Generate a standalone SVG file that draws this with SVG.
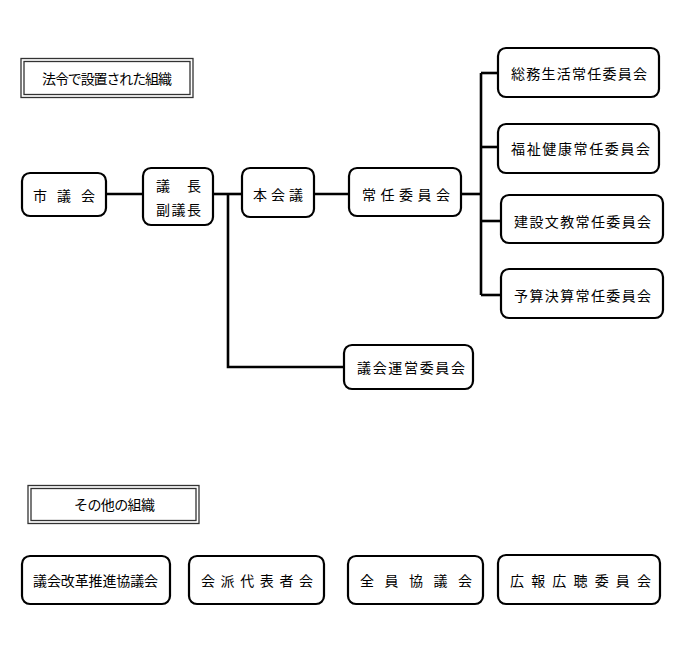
<svg xmlns="http://www.w3.org/2000/svg" width="690" height="645" viewBox="0 0 690 645">
<style>
  .box { fill: #fff; stroke: #000; stroke-width: 2.2; }
  .hdr-o { fill: #fff; stroke: #333; stroke-width: 1.3; }
  .hdr-i { fill: none; stroke: #333; stroke-width: 1.3; }
  .line { fill: none; stroke: #000; stroke-width: 2.6; }
  text { font-family: "Noto Sans CJK JP", "Noto Sans", sans-serif; font-size: 14px; fill: #000; dominant-baseline: central; }
</style>
<rect width="690" height="645" fill="#fff"/>

<g id="connectors">
  <path class="line" d="M106,194 H143"/>
  <path class="line" d="M213,194 H242"/>
  <path class="line" d="M228,194 V367 H344"/>
  <path class="line" d="M314,194 H349"/>
  <path class="line" d="M461,194 H481"/>
  <path class="line" d="M481,73 V295"/>
  <path class="line" d="M481,73 H498"/>
  <path class="line" d="M481,147 H498"/>
  <path class="line" d="M481,221 H501"/>
  <path class="line" d="M481,295 H501"/>
</g>

<g id="header-houryou">
  <rect class="hdr-o" x="21" y="58.5" width="172" height="39"/>
  <rect class="hdr-i" x="24" y="61.5" width="166" height="33"/>
  <text x="42" y="78" textLength="130" lengthAdjust="spacing">法令で設置された組織</text>
</g>

<g id="node-shigikai">
  <rect class="box" x="22" y="173" width="84" height="43" rx="8"/>
  <text x="33" y="195" textLength="62" lengthAdjust="spacing">市議会</text>
</g>

<g id="node-gicho">
  <rect class="box" x="143" y="168" width="70" height="57" rx="8"/>
  <text x="156" y="185" textLength="45" lengthAdjust="spacing">議長</text>
  <text x="156" y="209" textLength="45" lengthAdjust="spacing">副議長</text>
</g>

<g id="node-honkaigi">
  <rect class="box" x="242" y="168" width="72" height="49" rx="8"/>
  <text x="253" y="194" textLength="50" lengthAdjust="spacing">本会議</text>
</g>

<g id="node-joninkai">
  <rect class="box" x="349" y="168" width="112" height="48" rx="8"/>
  <text x="362" y="194" textLength="88" lengthAdjust="spacing">常任委員会</text>
</g>

<g id="node-somu">
  <rect class="box" x="498" y="48" width="161" height="49" rx="8"/>
  <text x="511" y="73" textLength="136" lengthAdjust="spacing">総務生活常任委員会</text>
</g>

<g id="node-fukushi">
  <rect class="box" x="498" y="124" width="161" height="49" rx="8"/>
  <text x="511" y="148" textLength="139" lengthAdjust="spacing">福祉健康常任委員会</text>
</g>

<g id="node-kensetsu">
  <rect class="box" x="501" y="195" width="162" height="48" rx="8"/>
  <text x="514" y="221" textLength="137" lengthAdjust="spacing">建設文教常任委員会</text>
</g>

<g id="node-yosan">
  <rect class="box" x="501" y="269" width="162" height="49" rx="8"/>
  <text x="514" y="295" textLength="137" lengthAdjust="spacing">予算決算常任委員会</text>
</g>

<g id="node-giunkai">
  <rect class="box" x="344" y="345" width="129" height="44" rx="8"/>
  <text x="357" y="367" textLength="108" lengthAdjust="spacing">議会運営委員会</text>
</g>

<g id="header-sonota">
  <rect class="hdr-o" x="28" y="485.5" width="171" height="38"/>
  <rect class="hdr-i" x="31" y="488.5" width="165" height="32"/>
  <text x="74" y="504" textLength="81" lengthAdjust="spacing">その他の組織</text>
</g>

<g id="node-kaikaku">
  <rect class="box" x="22" y="556" width="148" height="48" rx="8"/>
  <text x="33" y="580" textLength="125" lengthAdjust="spacing">議会改革推進協議会</text>
</g>

<g id="node-kaiha">
  <rect class="box" x="189" y="556" width="135" height="48" rx="8"/>
  <text x="201" y="580" textLength="112" lengthAdjust="spacing">会派代表者会</text>
</g>

<g id="node-zenin">
  <rect class="box" x="348" y="556" width="135" height="48" rx="8"/>
  <text x="360" y="580" textLength="112" lengthAdjust="spacing">全員協議会</text>
</g>

<g id="node-kouho">
  <rect class="box" x="498" y="555" width="162" height="49" rx="8"/>
  <text x="510" y="580" textLength="141" lengthAdjust="spacing">広報広聴委員会</text>
</g>
</svg>
